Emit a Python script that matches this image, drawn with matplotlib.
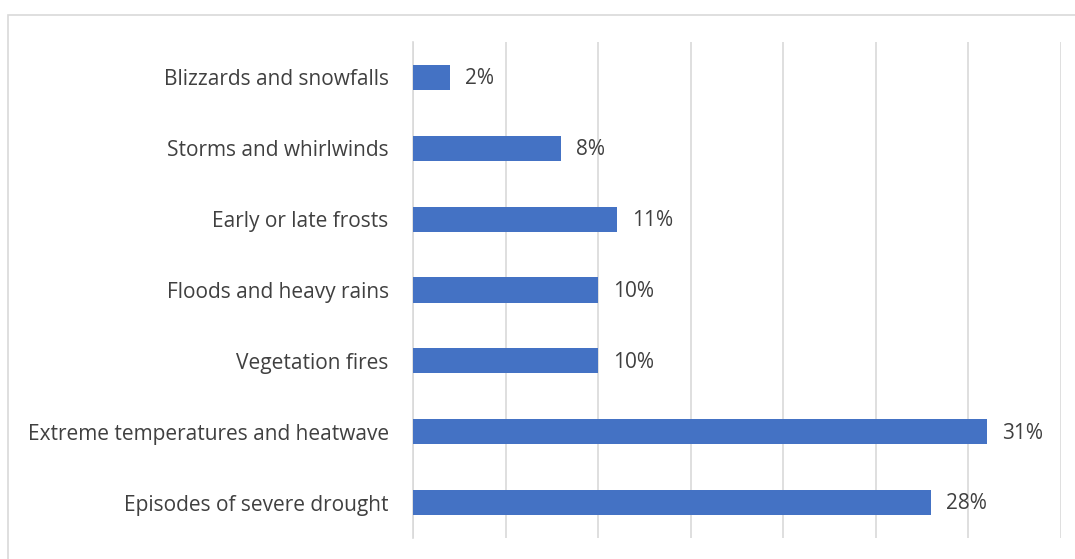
import matplotlib.pyplot as plt
from matplotlib.patches import Rectangle

categories = [
    "Episodes of severe drought",
    "Extreme temperatures and heatwave",
    "Vegetation fires",
    "Floods and heavy rains",
    "Early or late frosts",
    "Storms and whirlwinds",
    "Blizzards and snowfalls",
]
values = [28, 31, 10, 10, 11, 8, 2]

plt.rcParams['font.family'] = ['Open Sans', 'DejaVu Sans']

fig = plt.figure(figsize=(10.75, 5.59), dpi=100)
fig.patch.set_facecolor('white')

# chart area border
fig.patches.append(Rectangle((8 / 1075, -0.1), 1.2, 1 - 15 / 559 + 0.1,
                             transform=fig.transFigure, fill=False,
                             edgecolor='#D9D9D9', linewidth=1.2))

ax = fig.add_axes([413 / 1075, 21 / 559, (1060.5 - 413) / 1075, (538 - 42) / 559])
ypos = range(len(categories))
ax.barh(ypos, values, height=0.355, color='#4472C4', zorder=3)
ax.set_xlim(0, 35)
ax.set_ylim(-0.5, len(categories) - 0.5)
ax.set_xticks(range(0, 36, 5))
ax.tick_params(axis='x', bottom=False, labelbottom=False)
ax.tick_params(axis='y', left=False, pad=14, labelsize=15, labelcolor='#404040')
ax.set_yticks(list(ypos))
ax.set_yticklabels(categories)
ax.grid(axis='x', color='#D9D9D9', linewidth=1.2, zorder=0)
for s in ['top', 'right', 'bottom']:
    ax.spines[s].set_visible(False)
ax.spines['left'].set_color('#D9D9D9')
ax.spines['left'].set_linewidth(1.2)

for y, v in zip(ypos, values):
    ax.annotate(f"{v}%", (v, y), xytext=(11, -1), textcoords='offset points',
                va='center', ha='left', fontsize=15, color='#404040')

fig.savefig('out.png', dpi=100)
